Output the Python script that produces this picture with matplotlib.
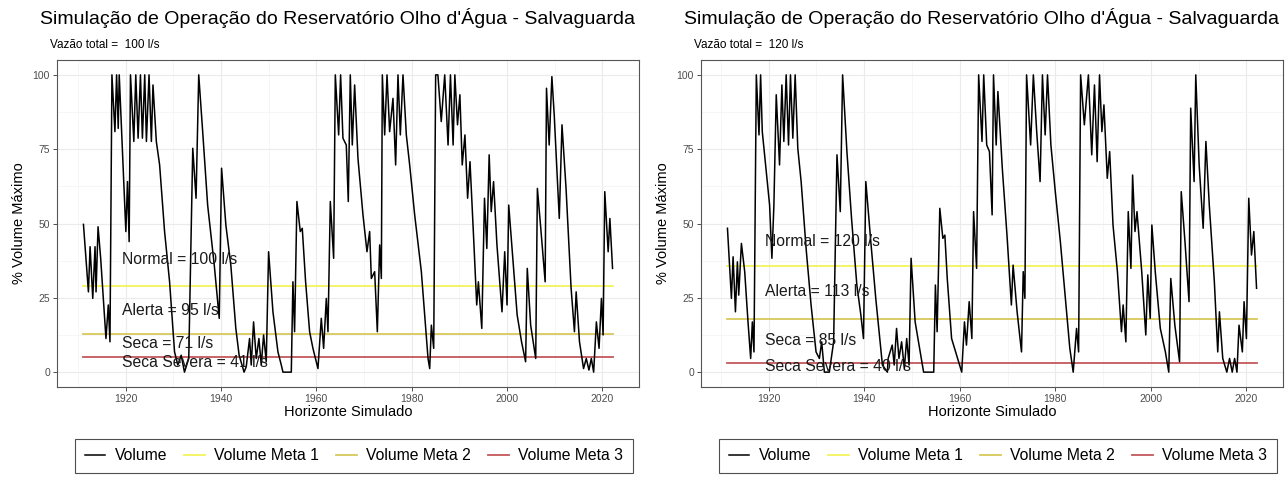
import numpy as np
import matplotlib
matplotlib.use("Agg")
import matplotlib.pyplot as plt
from matplotlib.ticker import MultipleLocator

plt.rcParams['font.family'] = ['Liberation Sans', 'DejaVu Sans']

# ---- data (turning points of the simulated volume, %) ----
anos_100 = [1911.18, 1912.22, 1912.57, 1913.13, 1913.61, 1913.82, 1914.24, 1914.79, 1915.90, 1916.39,
            1916.74, 1917.15, 1917.78, 1918.13, 1918.47, 1918.68, 1920.07, 1920.42, 1920.76, 1921.04,
            1921.74, 1922.15, 1922.64, 1923.13, 1923.54, 1924.03, 1924.38, 1924.93, 1925.42, 1925.76,
            1926.46, 1927.15, 1928.19, 1929.24, 1930.28, 1930.97, 1931.67, 1932.36, 1933.26, 1934.10,
            1934.79, 1935.35, 1936.18, 1937.22, 1938.61, 1939.65, 1940.14, 1941.04, 1942.08, 1943.13,
            1943.82, 1944.86, 1945.31, 1946.01, 1946.36, 1946.85, 1947.41, 1947.97, 1948.46, 1948.95,
            1949.51, 1950.00, 1950.91, 1951.96, 1952.66, 1953.01, 1954.76, 1955.10, 1955.45, 1955.94,
            1956.64, 1957.06, 1957.76, 1958.60, 1959.30, 1960.35, 1961.05, 1961.54, 1962.10, 1962.45,
            1962.94, 1963.64, 1963.99, 1964.69, 1965.10, 1965.59, 1966.29, 1966.71, 1967.13, 1967.55,
            1968.04, 1968.74, 1969.79, 1970.63, 1971.19, 1971.54, 1972.24, 1972.80, 1973.29, 1973.64,
            1973.85, 1974.34, 1974.83, 1975.38, 1976.08, 1976.64, 1977.13, 1977.62, 1978.18, 1978.88,
            1979.58, 1980.63, 1982.03, 1982.73, 1983.43, 1983.78, 1984.13, 1984.62, 1985.03, 1985.50,
            1986.20, 1986.93, 1987.63, 1988.13, 1988.69, 1989.05, 1989.61, 1990.11, 1990.60, 1991.17,
            1991.73, 1992.23, 1992.93, 1993.64, 1993.99, 1994.70, 1995.27, 1995.76, 1996.25, 1996.68,
            1997.17, 1997.88, 1998.94, 1999.51, 2000.00, 2000.35, 2001.41, 2002.12, 2003.04, 2003.89,
            2004.24, 2004.95, 2006.01, 2006.36, 2007.07, 2007.99, 2008.27, 2008.83, 2009.40, 2009.89,
            2010.95, 2011.52, 2012.37, 2013.43, 2014.13, 2014.49, 2015.19, 2016.04, 2016.61, 2017.17,
            2017.67, 2018.16, 2018.73, 2019.29, 2019.79, 2020.14, 2020.49, 2021.20, 2021.56, 2022.12]
vol_100 = [49.7, 27.0, 42.2, 24.8, 42.2, 27.0, 48.9, 38.3, 11.3, 22.6,
           10.2, 100, 80.9, 100, 82.0, 100, 47.3, 64.1, 43.9, 100,
           77.6, 100, 78.7, 100, 78.7, 100, 77.6, 100, 77.6, 96.6,
           77.6, 69.7, 47.3, 30.4, 6.8, 2.4, 5.7, 0.0, 4.6, 75.3,
           58.5, 100, 80.9, 56.2, 36.0, 18.1, 68.6, 49.5, 36.0, 14.7,
           5.7, 0.0, 1.8, 11.3, 2.4, 16.9, 4.6, 11.3, 2.4, 12.5,
           3.5, 40.5, 20.3, 6.8, 2.4, 0.0, 0.0, 30.4, 13.6, 57.4,
           47.3, 48.4, 30.4, 13.6, 8.0, 1.2, 18.1, 8.0, 24.8, 13.6,
           57.4, 38.3, 100, 79.8, 100, 78.7, 76.4, 57.4, 100, 76.4,
           96.6, 71.9, 52.9, 40.5, 47.3, 31.5, 33.8, 13.6, 42.8, 31.5,
           100, 79.8, 100, 80.9, 92.1, 69.7, 100, 79.8, 100, 79.8,
           69.7, 52.9, 33.8, 19.2, 4.6, 1.2, 15.8, 8.0, 100, 100,
           84.3, 100, 76.4, 100, 76.4, 100, 83.2, 93.3, 69.7, 79.8,
           58.5, 70.8, 47.3, 22.6, 30.4, 14.7, 58.5, 41.6, 73.1, 54.0,
           64.1, 42.8, 20.3, 40.5, 22.6, 56.2, 33.8, 19.2, 10.2, 3.5,
           34.9, 15.8, 4.6, 61.8, 48.4, 30.4, 95.5, 76.4, 99.4, 86.5,
           51.7, 83.2, 61.8, 28.2, 13.6, 27.0, 10.2, 1.2, 4.6, 0.7,
           4.6, 0.0, 16.9, 8.0, 24.8, 12.5, 60.7, 40.5, 51.7, 34.9]

anos_120 = [1911.39, 1912.22, 1912.57, 1913.06, 1913.47, 1913.75, 1914.31, 1915.00, 1915.69, 1916.25,
            1916.60, 1916.94, 1917.43, 1917.99, 1918.33, 1918.68, 1920.21, 1920.69, 1921.11, 1921.60,
            1922.29, 1922.78, 1923.19, 1923.68, 1924.17, 1924.58, 1925.07, 1925.56, 1926.11, 1926.81,
            1927.85, 1928.89, 1929.93, 1930.63, 1931.11, 1931.67, 1932.71, 1933.61, 1934.31, 1935.00,
            1935.49, 1936.39, 1937.36, 1938.47, 1939.31, 1939.86, 1940.35, 1941.39, 1942.43, 1943.33,
            1943.82, 1944.86, 1945.02, 1945.87, 1946.29, 1946.78, 1947.28, 1947.84, 1948.41, 1948.90,
            1949.40, 1949.82, 1950.67, 1951.73, 1952.44, 1954.56, 1954.91, 1955.27, 1955.83, 1956.47,
            1956.89, 1957.39, 1958.30, 1959.15, 1960.42, 1960.99, 1961.41, 1961.98, 1962.54, 1962.90,
            1963.53, 1963.96, 1964.66, 1965.02, 1965.65, 1966.22, 1966.78, 1967.07, 1967.63, 1967.99,
            1968.91, 1969.89, 1970.81, 1971.17, 1972.01, 1972.93, 1973.29, 1973.64, 1973.99, 1974.84,
            1975.41, 1976.11, 1976.82, 1977.31, 1977.88, 1978.37, 1979.08, 1980.00, 1981.06, 1982.12,
            1983.04, 1983.75, 1984.45, 1984.88, 1985.30, 1986.08, 1986.93, 1987.63, 1988.20, 1988.76,
            1989.26, 1989.75, 1990.18, 1990.88, 1991.38, 1992.08, 1993.00, 1993.85, 1994.20, 1994.77,
            1995.27, 1995.83, 1996.18, 1996.68, 1997.10, 1998.09, 1998.94, 1999.36, 1999.86, 2000.21,
            2000.92, 2001.98, 2003.04, 2003.75, 2004.17, 2005.02, 2006.01, 2006.36, 2007.14, 2007.99,
            2008.34, 2009.05, 2009.40, 2010.11, 2010.95, 2011.52, 2012.23, 2013.29, 2014.00, 2014.35,
            2015.05, 2015.90, 2016.47, 2017.03, 2017.53, 2018.02, 2018.45, 2019.15, 2019.51, 2020.00,
            2020.49, 2021.06, 2021.55, 2022.12]
vol_120 = [48.4, 24.8, 38.8, 20.3, 37.1, 25.9, 43.3, 33.8, 16.9, 4.6,
           16.9, 6.8, 100, 79.8, 100, 80.9, 56.2, 38.3, 56.2, 93.3,
           69.7, 96.6, 77.6, 100, 76.4, 100, 78.7, 100, 75.3, 64.1,
           41.6, 22.6, 6.8, 4.6, 10.2, 0.0, 0.0, 10.2, 73.1, 54.0,
           100, 74.2, 51.7, 29.3, 19.2, 11.3, 64.1, 43.9, 24.8, 10.2,
           2.4, 0.0, 4.6, 9.1, 2.4, 14.7, 4.6, 10.2, 1.2, 11.3,
           2.4, 38.3, 16.9, 6.8, 0.0, 0.0, 29.3, 13.6, 55.1, 45.0,
           46.1, 31.5, 11.3, 6.8, 0.0, 16.9, 9.1, 23.7, 11.3, 54.0,
           34.9, 100, 77.6, 100, 76.4, 74.2, 52.9, 100, 76.4, 94.4,
           68.6, 46.1, 22.6, 36.0, 20.3, 6.8, 33.8, 24.8, 100, 76.4,
           100, 80.9, 64.1, 100, 79.8, 100, 76.4, 60.7, 43.9, 24.8,
           8.0, 0.0, 14.7, 6.8, 100, 83.2, 100, 73.1, 96.6, 70.8,
           100, 80.9, 89.9, 65.2, 74.2, 49.5, 33.8, 13.6, 22.6, 10.2,
           54.0, 34.9, 66.3, 47.3, 54.0, 33.8, 12.5, 32.7, 18.1, 49.5,
           33.8, 14.7, 6.8, 0.0, 31.5, 15.8, 3.5, 60.7, 43.9, 23.7,
           88.8, 64.1, 100, 69.7, 48.4, 77.6, 56.2, 30.4, 6.8, 20.3,
           4.6, 0.0, 4.6, 0.0, 4.6, 0.0, 15.8, 6.8, 23.7, 11.3,
           58.5, 39.4, 47.3, 28.2]

# target volumes (Meta 1, 2, 3) and the texts for each simulation
metas_100 = [29.1, 12.7, 5.2]
metas_120 = [35.7, 17.8, 3.1]
rotulos_100 = ["Normal = 100 l/s", "Alerta = 95 l/s", "Seca = 71 l/s", "Seca Severa = 41 l/s"]
rotulos_120 = ["Normal = 120 l/s", "Alerta = 113 l/s", "Seca = 85 l/s", "Seca Severa = 40 l/s"]
rotulos_y_100 = [37.9, 20.9, 9.7, 3.1]
rotulos_y_120 = [43.9, 27.0, 10.8, 1.8]
vazoes = [100, 120]

titulo = "Simulação de Operação do Reservatório Olho d'Água - Salvaguarda"
nomes_serie = ["Volume", "Volume Meta 1", "Volume Meta 2", "Volume Meta 3"]
cores = ["black", "#F3F35C", "#D8C85A", "#C4585A"]

W, H = 1288, 480
fig = plt.figure(figsize=(W / 100, H / 100), dpi=100)


def painel(x0, anos, vol, metas, rotulos, rotulos_y, vazao):
    ax = fig.add_axes([x0 / W, (H - 387) / H, 582 / W, 327 / H])
    lns = []
    l, = ax.plot(anos, vol, color=cores[0], lw=1.1, label=nomes_serie[0], zorder=4)
    lns.append(l)
    for i, m in enumerate(metas):
        l, = ax.plot([anos[0], anos[-1]], [m, m], color=cores[i + 1], lw=1.3,
                     label=nomes_serie[i + 1], zorder=3)
        lns.append(l)
    for txt, yy in zip(rotulos, rotulos_y):
        ax.text(1919.3, yy, txt, fontsize=11.3, color="#1A1A1A", va="center", ha="left", zorder=5)

    span = anos[-1] - anos[0]
    ax.set_xlim(anos[0] - 0.05 * span, anos[-1] + 0.05 * span)
    ax.set_ylim(-5, 105)
    ax.set_xticks([1920, 1940, 1960, 1980, 2000, 2020])
    ax.set_yticks([0, 25, 50, 75, 100])
    ax.xaxis.set_minor_locator(MultipleLocator(10))
    ax.yaxis.set_minor_locator(MultipleLocator(12.5))
    ax.grid(which="major", color="#EBEBEB", lw=0.8, zorder=0)
    ax.grid(which="minor", color="#F3F3F3", lw=0.5, zorder=0)
    ax.set_axisbelow(True)
    ax.tick_params(which="major", length=3, width=0.6, color="#333333",
                   labelsize=7.5, labelcolor="#4D4D4D", pad=2)
    ax.tick_params(which="minor", length=0)
    for s in ax.spines.values():
        s.set_color("#555555")
        s.set_linewidth(0.8)
    ax.set_xlabel("Horizonte Simulado", fontsize=10.5, labelpad=1)
    ax.set_ylabel("% Volume Máximo", fontsize=10.5, labelpad=5)

    fig.text((x0 - 17) / W, 1 - 18 / H, titulo, fontsize=14, va="center", ha="left")
    fig.text((x0 - 7) / W, 1 - 45 / H, f"Vazão total =  {vazao} l/s", fontsize=8.5,
             va="center", ha="left")
    cx = (x0 + 297) / W
    leg = fig.legend(handles=lns, loc="center", bbox_to_anchor=(cx, 1 - 456 / H), ncol=4,
                     fontsize=11.3, frameon=True, fancybox=False, edgecolor="#222222",
                     handlelength=1.3, columnspacing=1.1, handletextpad=0.6,
                     borderpad=0.6)
    leg.get_frame().set_linewidth(0.8)
    return ax


painel(57, anos_100, vol_100, metas_100, rotulos_100, rotulos_y_100, vazoes[0])
painel(701, anos_120, vol_120, metas_120, rotulos_120, rotulos_y_120, vazoes[1])

fig.savefig("out.png", dpi=100, facecolor="white")
